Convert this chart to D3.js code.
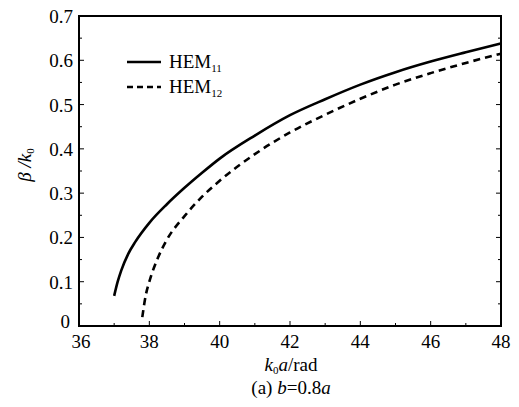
<!DOCTYPE html>
<html>
<head>
<meta charset="utf-8">
<script src="https://cdn.jsdelivr.net/npm/d3@7"></script>
<style>
  body { margin: 0; background: #fff; }
  svg text { font-family: "Liberation Serif", "Times New Roman", Times, serif; fill: #000; }
</style>
</head>
<body>
<svg id="svg"></svg>
<script>
// data
const hem11X = [37.0, 37.1, 37.2, 37.4, 37.6, 38.0, 38.5, 39.0, 39.5, 40, 41, 42, 43, 44, 45, 46, 47, 48]
const hem11Y = [0.068, 0.10, 0.125, 0.163, 0.19, 0.233, 0.275, 0.312, 0.346, 0.378, 0.43, 0.476, 0.512, 0.545, 0.573, 0.597, 0.618, 0.638]
const hem12X = [37.8, 37.9, 38.0, 38.25, 38.5, 39.0, 39.5, 40, 41, 42, 43, 44, 45, 46, 47, 48]
const hem12Y = [0.02, 0.07, 0.10, 0.155, 0.195, 0.248, 0.292, 0.328, 0.388, 0.437, 0.477, 0.513, 0.545, 0.571, 0.594, 0.615]
const xTicks = [36, 38, 40, 42, 44, 46, 48]
const yTicks = [0, 0.1, 0.2, 0.3, 0.4, 0.5, 0.6, 0.7]
const legendNames = ["11", "12"]

const width = 519, height = 407
const margin = {left: 79, right: 18, top: 16, bottom: 81}

const svg = d3.select("#svg")
    .attr("width", width)
    .attr("height", height)

const x = d3.scaleLinear().domain([36, 48]).range([margin.left, width - margin.right])
const y = d3.scaleLinear().domain([0, 0.7]).range([height - margin.bottom, margin.top])

// frame
svg.append("rect")
    .attr("x", x(36)).attr("y", y(0.7))
    .attr("width", x(48) - x(36)).attr("height", y(0) - y(0.7))
    .attr("fill", "none").attr("stroke", "#000").attr("stroke-width", 2)

// inward ticks
const minorX = d3.range(36, 48.01, 1)
const minorY = d3.range(0, 0.701, 0.05)
svg.append("g").selectAll()
  .data(minorX)
  .join("line")
    .attr("x1", d => x(d)).attr("x2", d => x(d))
    .attr("y1", y(0)).attr("y2", d => y(0) - (Number.isInteger(d / 2) ? 5 : 3))
    .attr("stroke", "#000").attr("stroke-width", 1)
svg.append("g").selectAll()
  .data(minorY)
  .join("line")
    .attr("x1", x(36)).attr("x2", (d, i) => x(36) + (i % 2 ? 3 : 5))
    .attr("y1", d => y(d)).attr("y2", d => y(d))
    .attr("stroke", "#000").attr("stroke-width", 1)
svg.append("g").selectAll()
  .data(minorY)
  .join("line")
    .attr("x1", x(48)).attr("x2", (d, i) => x(48) - (i % 2 ? 3 : 5))
    .attr("y1", d => y(d)).attr("y2", d => y(d))
    .attr("stroke", "#000").attr("stroke-width", 1)

// tick labels
svg.append("g")
    .attr("font-size", 19)
    .attr("text-anchor", "middle")
  .selectAll()
  .data(xTicks)
  .join("text")
    .attr("x", d => x(d) + (d === 36 ? 2 : 0))
    .attr("y", y(0) + 22)
    .text(d => d)
svg.append("g")
    .attr("font-size", 19)
    .attr("text-anchor", "end")
  .selectAll()
  .data(yTicks)
  .join("text")
    .attr("x", d => d === 0 ? x(36) - 9 : x(36) - 6)
    .attr("y", d => y(d) + (d === 0 ? 2 : 7))
    .text(d => d)

// axis titles
const xt = svg.append("text")
    .attr("x", 291).attr("y", 371)
    .attr("text-anchor", "middle")
    .attr("font-size", 19)
xt.append("tspan").attr("font-style", "italic").text("k")
xt.append("tspan").attr("font-size", 11).attr("dy", 3).text("0")
xt.append("tspan").attr("font-style", "italic").attr("dy", -3).text("a")
xt.append("tspan").text("/rad")

const cap = svg.append("text")
    .attr("x", 291).attr("y", 394)
    .attr("text-anchor", "middle")
    .attr("font-size", 19)
cap.append("tspan").text("(a) ")
cap.append("tspan").attr("font-style", "italic").text("b")
cap.append("tspan").text("=0.8")
cap.append("tspan").attr("font-style", "italic").text("a")

const yt = svg.append("text")
    .attr("transform", "translate(31,165) rotate(-90)")
    .attr("text-anchor", "middle")
    .attr("font-size", 19)
yt.append("tspan").attr("font-style", "italic").text("β /k")
yt.append("tspan").attr("font-size", 11).attr("dy", 3).text("0")

// curves
const line = d3.line()
    .x(d => x(d[0]))
    .y(d => y(d[1]))
    .curve(d3.curveMonotoneX)

svg.append("path")
    .datum(d3.zip(hem11X, hem11Y))
    .attr("d", line)
    .attr("fill", "none").attr("stroke", "#000").attr("stroke-width", 2.6)
svg.append("path")
    .datum(d3.zip(hem12X, hem12Y))
    .attr("d", line)
    .attr("fill", "none").attr("stroke", "#000").attr("stroke-width", 2.6)
    .attr("stroke-dasharray", "7,5")

// legend
const lg = svg.append("g")
lg.selectAll("line")
  .data(legendNames)
  .join("line")
    .attr("x1", 127).attr("x2", 161)
    .attr("y1", (d, i) => 62 + i * 25).attr("y2", (d, i) => 62 + i * 25)
    .attr("stroke", "#000").attr("stroke-width", 2.4)
    .attr("stroke-dasharray", (d, i) => i ? "6,4" : null)
lg.selectAll("text")
  .data(legendNames)
  .join("text")
    .attr("x", 169)
    .attr("y", (d, i) => 68 + i * 25)
    .attr("font-size", 19)
    .call(t => t.append("tspan").text("HEM"))
    .call(t => t.append("tspan").attr("font-size", 11).attr("dy", 4).text(d => d))
</script>
</body>
</html>
